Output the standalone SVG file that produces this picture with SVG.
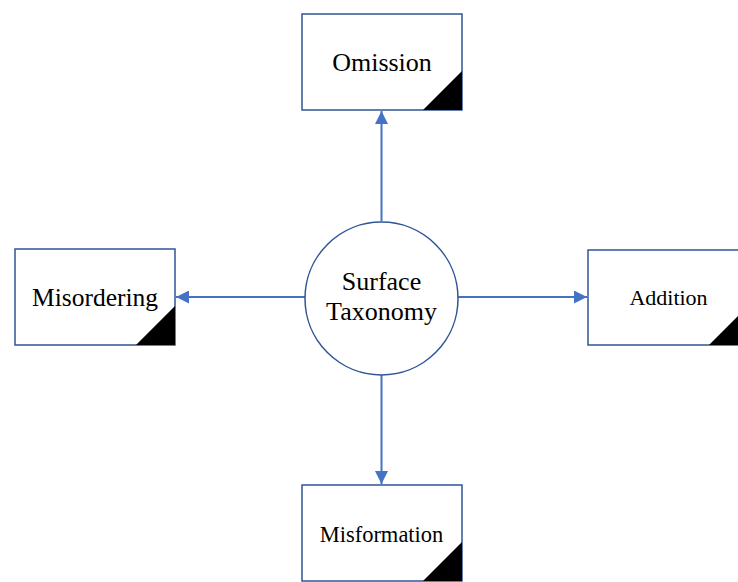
<svg xmlns="http://www.w3.org/2000/svg" width="738" height="582" viewBox="0 0 738 582">
<style>
.box{fill:#fff;stroke:#2F5597;stroke-width:1.5}
.tri{fill:#000}
.lbl{font-family:"Liberation Serif","Times New Roman",serif;fill:#000;text-anchor:middle}
.conn{stroke:#4472C4;stroke-width:2;fill:none}
</style>
<defs>
<marker id="ah" viewBox="0 0 10 10" refX="10" refY="5" markerWidth="6.5" markerHeight="6.5" orient="auto" markerUnits="strokeWidth">
<path d="M0,0 L10,5 L0,10 Z" fill="#4472C4"/>
</marker>
</defs>
<rect width="738" height="582" fill="#fff"/>
<g id="connectors">
<line class="conn" x1="381.5" y1="221" x2="381.5" y2="111" marker-end="url(#ah)"/>
<line class="conn" x1="305" y1="297" x2="176" y2="297" marker-end="url(#ah)"/>
<line class="conn" x1="458" y1="297" x2="587" y2="297" marker-end="url(#ah)"/>
<line class="conn" x1="381.5" y1="375" x2="381.5" y2="484" marker-end="url(#ah)"/>
</g>
<g id="surface-taxonomy">
<circle class="box" cx="381.5" cy="298.5" r="76.5"/>
<text class="lbl" x="381.5" y="290" font-size="26">Surface</text>
<text class="lbl" x="381.5" y="320" font-size="26">Taxonomy</text>
</g>
<g id="omission">
<rect class="box" x="302" y="14" width="160" height="96"/>
<polygon class="tri" points="423,110 462,110 462,71"/>
<text class="lbl" x="382" y="71" font-size="26">Omission</text>
</g>
<g id="misordering">
<rect class="box" x="15" y="249" width="160" height="96"/>
<polygon class="tri" points="136,345 175,345 175,306"/>
<text class="lbl" x="95" y="306" font-size="25.5">Misordering</text>
</g>
<g id="addition">
<rect class="box" x="588" y="250" width="160" height="95"/>
<polygon class="tri" points="709,345 748,345 748,306"/>
<text class="lbl" x="668.5" y="305" font-size="22">Addition</text>
</g>
<g id="misformation">
<rect class="box" x="302" y="485" width="160" height="96"/>
<polygon class="tri" points="423,581 462,581 462,542"/>
<text class="lbl" x="381.5" y="542" font-size="22.5">Misformation</text>
</g>
</svg>
